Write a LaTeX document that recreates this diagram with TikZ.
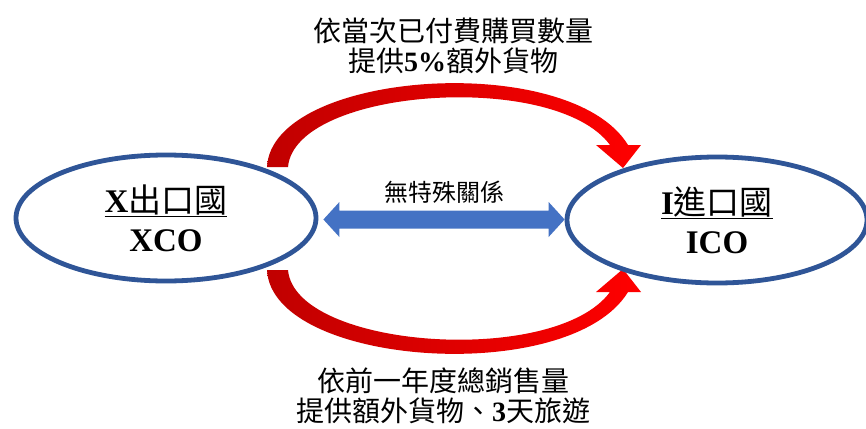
\documentclass[tikz,border=0pt]{standalone}
\usepackage{fontspec}
\setmainfont{Liberation Serif}
\newfontfamily\cjk{Noto Sans CJK TC}
\usetikzlibrary{shapes.geometric,calc,backgrounds}
\definecolor{ringblue}{HTML}{2F5597}
\definecolor{arrowblue}{HTML}{4472C4}
\definecolor{darkred}{HTML}{C00000}
\begin{document}
\begin{tikzpicture}[x=1pt,y=-1pt,
  country/.style={ellipse, draw=ringblue, line width=4.8pt, minimum width=300pt,
    minimum height=126pt, inner sep=0pt, align=center,
    font=\fontsize{33}{39}\selectfont},
  redarrow/.style={left color=darkred, right color=red},
  caption/.style={align=center, font=\fontsize{28}{30}\selectfont, inner sep=0pt}]
\useasboundingbox (0,0) rectangle (866,428);

\node[country] (L) at (166,218) {\underline{\textbf{X}{\cjk 出口國}}\\\textbf{XCO}};
\node[country] (R) at (717,220) {\underline{\textbf{I}{\cjk 進口國}}\\\textbf{ICO}};

% top and bottom captions
\node[caption] (top) at (453,46) {{\cjk 依當次已付費購買數量}\\{\cjk 提供}\textbf{5\%}{\cjk 額外貨物}};
\node[caption] (bot) at (443,396) {{\cjk 依前一年度總銷售量}\\{\cjk 提供額外貨物、}\textbf{3}{\cjk 天旅遊}};

% middle label and double arrow
\node[font=\fontsize{24}{26}\selectfont, inner sep=0pt] (mid) at (444,192) {\cjk 無特殊關係};
\coordinate (a1) at ($(L.east)+(5,1.5)$);
\coordinate (a2) at ($(R.west)+(0,-0.5)$);
\fill[arrowblue] (a1) -- ++(16,-17.5) -- ++(0,8.5) -- ($(a2)+(-16,-9)$) -- ++(0,-8.5)
  -- (a2) -- ++(-16,17.5) -- ++(0,-8.5) -- ($(a1)+(16,9)$) -- ++(0,8.5) -- cycle;

\begin{pgfonlayer}{background}
\fill[white] (0,0) rectangle (866,428);
% top curved arrow (L -> R)
\shade[redarrow] (267,167) .. controls (272,70) and (570,50) .. (628,145)
  -- (641,145) -- (623,168) -- (596,145) -- (610,145)
  .. controls (555,70) and (295,88) .. (288,167) -- cycle;
% bottom curved arrow (L -> R)
\shade[redarrow] (267,270) .. controls (272,367) and (570,387) .. (628,292)
  -- (641,292) -- (623,269) -- (596,292) -- (610,292)
  .. controls (555,367) and (295,349) .. (288,270) -- cycle;
\end{pgfonlayer}
\end{tikzpicture}
\end{document}
